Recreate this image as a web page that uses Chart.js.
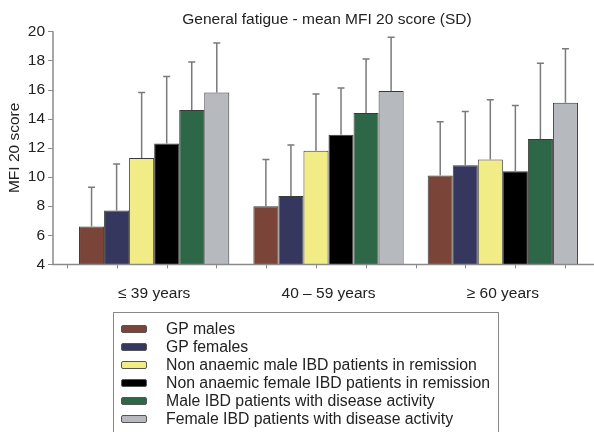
<!DOCTYPE html>
<html>
<head>
<meta charset="utf-8">
<script src="https://cdn.jsdelivr.net/npm/chart.js@4/dist/chart.umd.min.js"></script>
<style>
    body { margin: 0; background: #fff; }
    #wrap { position: relative; width: 594px; height: 432px; font-family: "Liberation Sans", Arial, sans-serif; }
    #title {
        position: absolute; left: 67px; width: 520px; top: 10px; line-height: 18px;
        text-align: center; font-size: 15.5px; color: #222;
    }
    #legend {
        position: absolute; left: 113px; top: 312px; width: 386px; height: 130px;
        border: 1px solid #888; box-sizing: border-box; padding-top: 7px;
    }
    .item { height: 18px; display: flex; align-items: center; font-size: 15.8px; color: #222; }
    .swatch { width: 24px; height: 6px; margin-left: 7px; margin-right: 19px; border: 1px solid #555; border-radius: 2px; }
</style>
</head>
<body>
<div id="wrap">
    <canvas id="fatigueChart"></canvas>
    <div id="title">General fatigue - mean MFI 20 score (SD)</div>
    <div id="legend"></div>
</div>
<script>
document.addEventListener('DOMContentLoaded', function () {
    const categories = ['≤ 39 years', '40 – 59 years', '≥ 60 years'];
    const seriesNames = [
        'GP males',
        'GP females',
        'Non anaemic male IBD patients in remission',
        'Non anaemic female IBD patients in remission',
        'Male IBD patients with disease activity',
        'Female IBD patients with disease activity'
    ];
    const seriesColors = ['#7a4438', '#35375f', '#f2ec86', '#000000', '#2e6747', '#b6b9bd'];

    // mean MFI 20 score
    const gpMales = [6.6, 8.0, 10.1];
    const gpFemales = [7.7, 8.7, 10.8];
    const remissionMales = [11.3, 11.8, 11.2];
    const remissionFemales = [12.3, 12.9, 10.4];
    const activeMales = [14.6, 14.4, 12.6];
    const activeFemales = [15.8, 15.9, 15.1];

    // SD (upper whisker only)
    const gpMalesSD = [2.7, 3.2, 3.7];
    const gpFemalesSD = [3.2, 3.5, 3.7];
    const remissionMalesSD = [4.5, 3.9, 4.1];
    const remissionFemalesSD = [4.6, 3.2, 4.5];
    const activeMalesSD = [3.3, 3.7, 5.2];
    const activeFemalesSD = [3.4, 3.7, 3.7];

    const yMin = 4, yMax = 20, yStep = 2;

    const means = [gpMales, gpFemales, remissionMales, remissionFemales, activeMales, activeFemales];
    const sds = [gpMalesSD, gpFemalesSD, remissionMalesSD, remissionFemalesSD, activeMalesSD, activeFemalesSD];

    const font = '"Liberation Sans", Arial, sans-serif';

    const datasets = means.map(function (vals, i) {
        return {
            label: seriesNames[i],
            data: vals,
            sd: sds[i],
            backgroundColor: seriesColors[i],
            borderColor: '#3a3a3a',
            borderWidth: 1,
            categoryPercentage: 0.862,
            barPercentage: 1
        };
    });

    // upward error bars + axis lines like the original
    const extras = {
        id: 'extras',
        afterDatasetsDraw: function (chart) {
            const ctx = chart.ctx;
            const y = chart.scales.y;
            const x = chart.scales.x;
            const area = chart.chartArea;
            ctx.save();
            ctx.strokeStyle = '#7a7a7a';
            ctx.lineWidth = 1.5;
            chart.data.datasets.forEach(function (ds, i) {
                chart.getDatasetMeta(i).data.forEach(function (bar, j) {
                    const top = y.getPixelForValue(ds.data[j] + ds.sd[j]);
                    ctx.beginPath();
                    ctx.moveTo(bar.x, bar.y);
                    ctx.lineTo(bar.x, top);
                    ctx.moveTo(bar.x - 3.5, top);
                    ctx.lineTo(bar.x + 3.5, top);
                    ctx.stroke();
                });
            });
            // axes
            const axisX = area.left - 14;
            ctx.strokeStyle = '#8a8a8a';
            ctx.lineWidth = 1.5;
            ctx.beginPath();
            ctx.moveTo(axisX, y.getPixelForValue(yMax));
            ctx.lineTo(axisX, area.bottom);
            ctx.lineTo(chart.width, area.bottom);
            ctx.stroke();
            ctx.lineWidth = 1;
            ctx.beginPath();
            for (let v = yMin; v <= yMax; v += yStep) {
                const py = Math.round(y.getPixelForValue(v)) + 0.5;
                ctx.moveTo(axisX - 5, py);
                ctx.lineTo(axisX, py);
            }
            for (let k = 0; k <= 10; k++) {
                const px = Math.round(x.getPixelForValue(-0.5 + k * 2 / 7)) + 0.5;
                ctx.moveTo(px, area.bottom);
                ctx.lineTo(px, area.bottom + 4);
            }
            ctx.stroke();
            ctx.restore();
        }
    };

    const ctx = document.getElementById('fatigueChart').getContext('2d');
    new Chart(ctx, {
        type: 'bar',
        data: { labels: categories, datasets: datasets },
        plugins: [extras],
        options: {
            responsive: true,
            maintainAspectRatio: false,
            animation: false,
            layout: { padding: { top: 28, right: 4, bottom: 109, left: 0 } },
            plugins: {
                legend: { display: false },
                tooltip: { enabled: false }
            },
            scales: {
                x: {
                    grid: { display: false, drawTicks: false },
                    border: { display: false },
                    ticks: {
                        color: '#222',
                        padding: 20,
                        font: { family: font, size: 15.5 }
                    }
                },
                y: {
                    min: yMin,
                    max: yMax,
                    afterFit: function (scale) { scale.width = 67; },
                    grid: { display: false, drawTicks: false },
                    border: { display: false },
                    ticks: {
                        stepSize: yStep,
                        color: '#222',
                        padding: 22,
                        font: { family: font, size: 15.5 }
                    },
                    title: {
                        display: true,
                        text: 'MFI 20 score',
                        color: '#222',
                        padding: { top: 5, bottom: 0 },
                        font: { family: font, size: 15.5 }
                    }
                }
            }
        }
    });

    // legend box below the plot
    const legend = document.getElementById('legend');
    seriesNames.forEach(function (name, i) {
        const row = document.createElement('div');
        row.className = 'item';
        const sw = document.createElement('span');
        sw.className = 'swatch';
        sw.style.background = seriesColors[i];
        const label = document.createElement('span');
        label.textContent = name;
        row.appendChild(sw);
        row.appendChild(label);
        legend.appendChild(row);
    });
});
</script>
</body>
</html>
